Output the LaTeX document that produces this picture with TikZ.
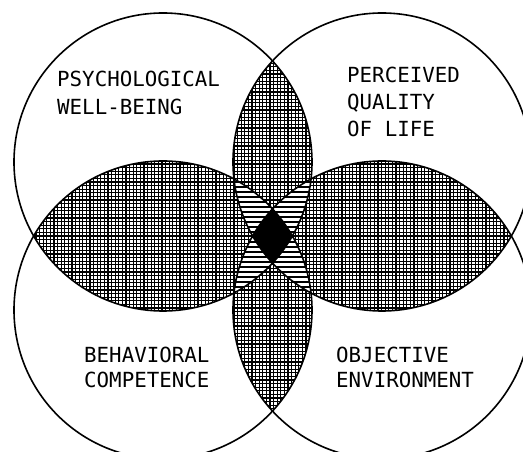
\documentclass[tikz,border=0pt]{standalone}
\usepackage{fontspec}
\setmonofont{DejaVu Sans Mono}

% the four circles
\def\ringPW{(163,290) circle (149pt)}
\def\ringPQ{(382,290) circle (149pt)}
\def\ringBC{(163,142) circle (149pt)}
\def\ringOE{(382,142) circle (149pt)}

\begin{document}
\begin{tikzpicture}[x=1pt, y=1pt,
  ring/.style={line width=1.6pt},
  meshline/.style={line width=1.2pt},
  hatchline/.style={line width=2pt},
  areatext/.style={font=\ttfamily\fontsize{20.8}{#1}\selectfont,
    align=left, anchor=north west, inner sep=0pt}]
  \useasboundingbox (0,0) rectangle (523,452);
  \clip (0,0) rectangle (523,452);

  % Two circles overlap: fine mesh
  \begin{scope}
    \clip \ringPW; \clip \ringPQ;
    \draw[meshline, step=3.6pt] (100,0) grid (450,452);
  \end{scope}
  \begin{scope}
    \clip \ringPW; \clip \ringBC;
    \draw[meshline, step=3.6pt] (0,100) grid (350,330);
  \end{scope}
  \begin{scope}
    \clip \ringPQ; \clip \ringOE;
    \draw[meshline, step=3.6pt] (200,100) grid (523,330);
  \end{scope}
  \begin{scope}
    \clip \ringBC; \clip \ringOE;
    \draw[meshline, step=3.6pt] (100,0) grid (450,452);
  \end{scope}

  % Three circles overlap: stripes
  \begin{scope}
    \clip \ringPW; \clip \ringPQ; \clip \ringBC;
    \fill[white] (150,100) rectangle (400,350);
    \foreach \y in {100,105,...,350}
      \draw[hatchline] (150,\y) -- (400,\y);
  \end{scope}
  \begin{scope}
    \clip \ringPW; \clip \ringPQ; \clip \ringOE;
    \fill[white] (150,100) rectangle (400,350);
    \foreach \y in {100,105,...,350}
      \draw[hatchline] (150,\y) -- (400,\y);
  \end{scope}
  \begin{scope}
    \clip \ringPW; \clip \ringBC; \clip \ringOE;
    \fill[white] (150,100) rectangle (400,350);
    \foreach \y in {100,105,...,350}
      \draw[hatchline] (150,\y) -- (400,\y);
  \end{scope}
  \begin{scope}
    \clip \ringPQ; \clip \ringBC; \clip \ringOE;
    \fill[white] (150,100) rectangle (400,350);
    \foreach \y in {100,105,...,350}
      \draw[hatchline] (150,\y) -- (400,\y);
  \end{scope}

  % All four overlap: solid black
  \begin{scope}
    \clip \ringPW; \clip \ringPQ; \clip \ringBC;
    \fill \ringOE;
  \end{scope}

  % Circles
  \draw[ring] \ringPW;
  \draw[ring] \ringPQ;
  \draw[ring] \ringBC;
  \draw[ring] \ringOE;

  % Labels
  \node[areatext=28] (psych) at (57,381) {PSYCHOLOGICAL\\WELL-BEING};
  \node[areatext=27] (qual) at (347,385) {PERCEIVED\\QUALITY\\OF LIFE};
  \node[areatext=25] (behav) at (84,105) {BEHAVIORAL\\COMPETENCE};
  \node[areatext=25] (envir) at (336,105) {OBJECTIVE\\ENVIRONMENT};
\end{tikzpicture}
\end{document}
